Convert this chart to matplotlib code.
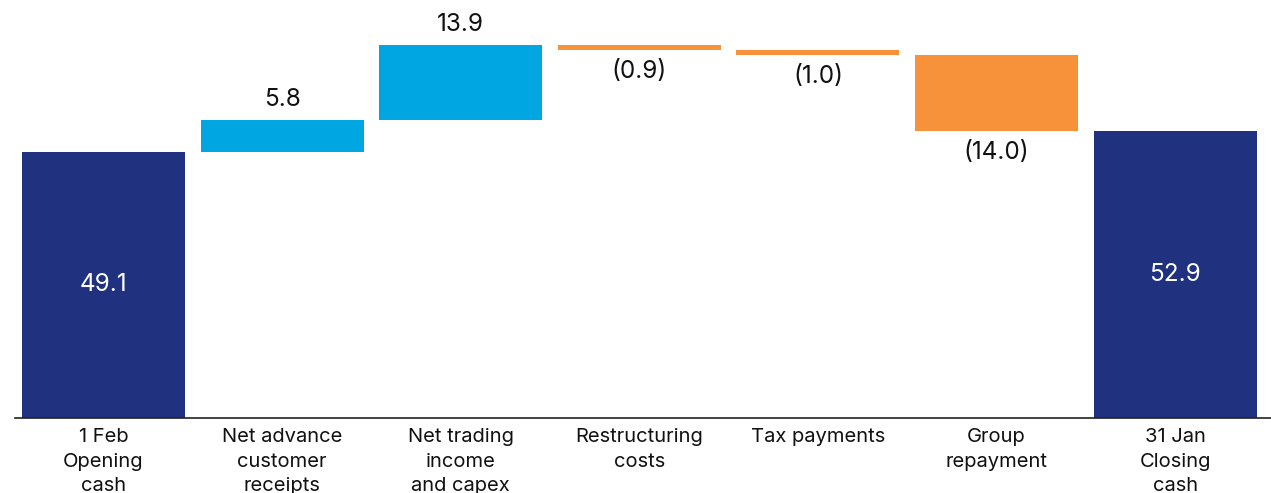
import matplotlib
matplotlib.use("Agg")
import matplotlib.pyplot as plt

categories = ["1 Feb\nOpening\ncash", "Net advance\ncustomer\nreceipts", "Net trading\nincome\nand capex",
              "Restructuring\ncosts", "Tax payments", "Group\nrepayment", "31 Jan\nClosing\ncash"]
values = [49.1, 5.8, 13.9, -0.9, -1.0, -14.0, 52.9]
kinds = ["total", "delta", "delta", "delta", "delta", "delta", "total"]

NAVY = "#1F317F"
CYAN = "#00A6E2"
ORANGE = "#F7923A"

plt.rcParams["font.family"] = ["Inter", "DejaVu Sans"]

fig = plt.figure(figsize=(12.71, 4.93), dpi=100)
ax = fig.add_axes([15/1271, 75/493, 1 - 15/1271, 418/493])

running = 0.0
for i, (v, k) in enumerate(zip(values, kinds)):
    if k == "total":
        running = v
        ax.bar(i, v, bottom=0, width=0.913, color=NAVY)
        ax.text(i, v / 2, f"{v:.1f}", ha="center", va="center", color="white", fontsize=17.5)
    else:
        start = running
        running = running + v
        bottom = min(start, running)
        color = CYAN if v > 0 else ORANGE
        ax.bar(i, abs(v), bottom=bottom, width=0.913, color=color)
        if v > 0:
            ax.annotate(f"{v:.1f}", (i, running), xytext=(0, 6.5), textcoords="offset points",
                        ha="center", va="bottom", fontsize=17.5, color="#111111")
        else:
            ax.annotate(f"({abs(v):.1f})", (i, running), xytext=(0, -7), textcoords="offset points",
                        ha="center", va="top", fontsize=17.5, color="#111111")

ax.set_xlim(-0.4955, 6.537)
ax.set_ylim(0, 77.1)
ax.set_xticks(range(len(categories)))
ax.set_xticklabels(categories, fontsize=14.5, color="#111111", linespacing=1.44)
ax.tick_params(axis="x", length=0, pad=7.5)
ax.set_yticks([])
for s in ["top", "right", "left"]:
    ax.spines[s].set_visible(False)
ax.spines["bottom"].set_color("#222222")
ax.spines["bottom"].set_linewidth(1.2)

fig.savefig("out.png", dpi=100)
